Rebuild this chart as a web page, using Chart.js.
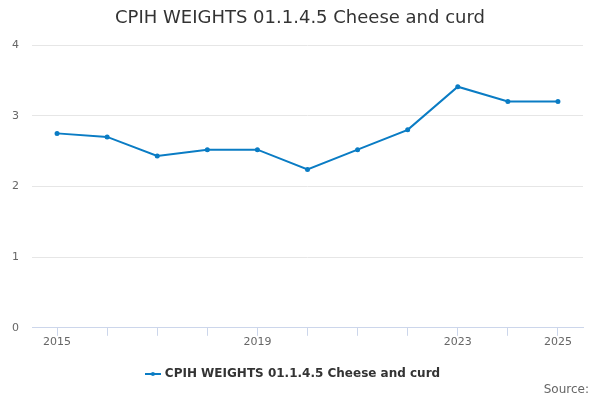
<!DOCTYPE html>
<html>
<head>
<meta charset="utf-8">
<script src="https://cdn.jsdelivr.net/npm/chart.js@4/dist/chart.umd.min.js"></script>
<style>
  html, body { margin: 0; padding: 0; background: #fff; }
  #wrap { width: 600px; height: 400px; }
</style>
</head>
<body>
<div id="wrap"><canvas id="myChart" width="600" height="400"></canvas></div>
<script>
const years = ['2015', '2016', '2017', '2018', '2019', '2020', '2021', '2022', '2023', '2024', '2025'];
const weights = [2.75, 2.7, 2.43, 2.52, 2.52, 2.24, 2.52, 2.8, 3.41, 3.2, 3.2];
const shownYears = ['2015', '2019', '2023', '2025'];
const yTicks = [0, 1, 2, 3, 4];
const seriesName = 'CPIH WEIGHTS 01.1.4.5 Cheese and curd';

const lineColor = '#0a7cc4';

// small legend marker: line with a dot
const marker = document.createElement('canvas');
marker.width = 16;
marker.height = 6;
const mctx = marker.getContext('2d');
mctx.strokeStyle = lineColor;
mctx.lineWidth = 2;
mctx.beginPath();
mctx.moveTo(0, 3);
mctx.lineTo(16, 3);
mctx.stroke();
mctx.fillStyle = lineColor;
mctx.beginPath();
mctx.arc(8, 3, 2, 0, Math.PI * 2);
mctx.fill();

// title centred on the whole canvas + source note bottom right
const textPlugin = {
  id: 'extraText',
  afterDraw(chart) {
    const ctx = chart.ctx;
    ctx.save();
    ctx.textBaseline = 'middle';
    ctx.font = '18px "DejaVu Sans"';
    ctx.fillStyle = '#333';
    ctx.textAlign = 'center';
    ctx.fillText(seriesName, 300, 18);
    ctx.font = '12px "DejaVu Sans"';
    ctx.fillStyle = '#666';
    ctx.textAlign = 'right';
    ctx.fillText('Source:', 589, 390);
    ctx.restore();
  }
};

const myChart = new Chart(document.getElementById('myChart'), {
  type: 'line',
  data: {
    labels: years,
    datasets: [{
      label: seriesName,
      data: weights,
      borderColor: lineColor,
      backgroundColor: lineColor,
      borderWidth: 2,
      pointRadius: 1.5,
      pointHoverRadius: 2.5,
      tension: 0
    }]
  },
  options: {
    responsive: false,
    animation: false,
    layout: { padding: { left: 4, right: 17, top: 45, bottom: 10 } },
    plugins: {
      title: { display: false },
      legend: {
        position: 'bottom',
        labels: {
          usePointStyle: true,
          pointStyle: marker,
          color: '#333',
          font: { family: 'DejaVu Sans', size: 12, weight: 'bold' },
          padding: 19
        }
      },
      tooltip: { enabled: false }
    },
    scales: {
      x: {
        offset: true,
        grid: {
          offset: false,
          drawOnChartArea: false,
          drawTicks: true,
          tickLength: 8,
          color: '#ccd6eb'
        },
        border: { color: '#ccd6eb' },
        ticks: {
          autoSkip: false,
          maxRotation: 0,
          color: '#666',
          padding: 0,
          font: { family: 'DejaVu Sans', size: 11 },
          callback: function (value) {
            const lbl = this.getLabelForValue(value);
            return shownYears.includes(lbl) ? lbl : '';
          }
        }
      },
      y: {
        min: yTicks[0],
        max: yTicks[yTicks.length - 1],
        afterBuildTicks: (scale) => { scale.ticks = yTicks.map(v => ({ value: v })); },
        afterFit: (scale) => { scale.width = 28; },
        grid: { color: '#e6e6e6', drawTicks: false },
        border: { display: false },
        ticks: {
          color: '#666',
          padding: 13,
          font: { family: 'DejaVu Sans', size: 11 }
        }
      }
    }
  },
  plugins: [textPlugin]
});
</script>
</body>
</html>
